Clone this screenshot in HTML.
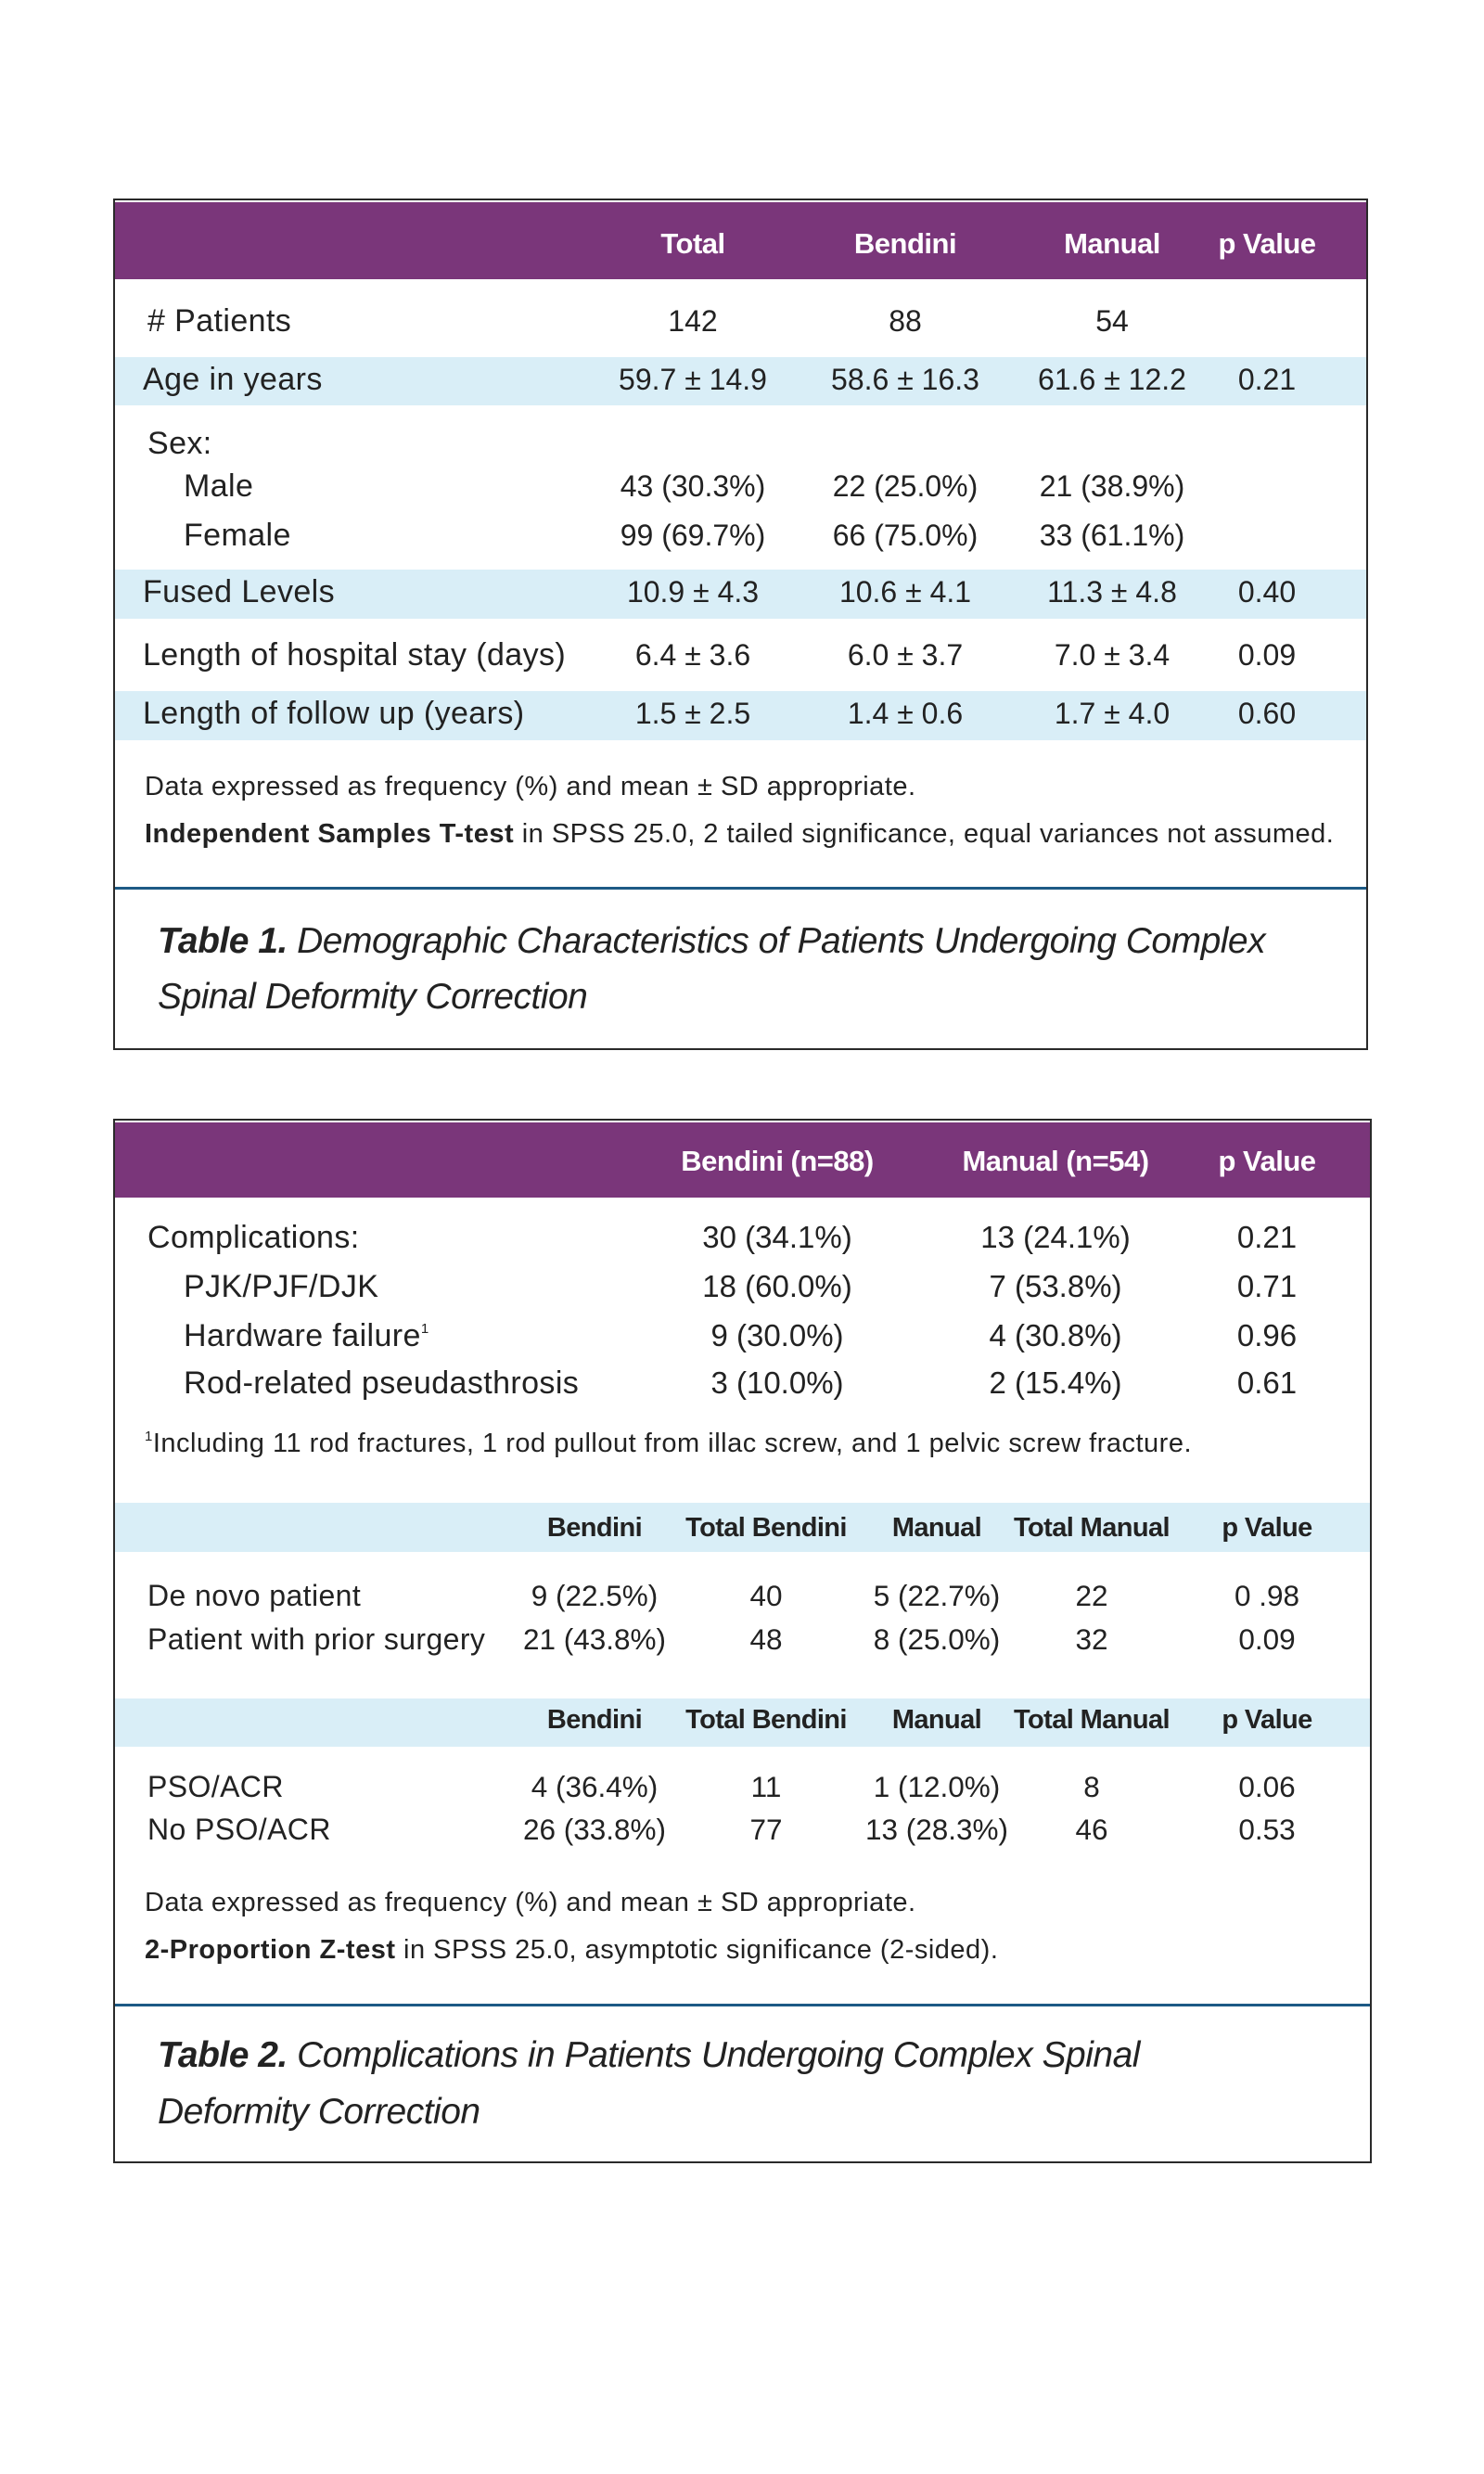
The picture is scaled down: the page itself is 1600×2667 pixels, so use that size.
<!DOCTYPE html>
<html><head><meta charset="utf-8"><style>
html,body{margin:0;padding:0;background:#fff;}
body{width:1600px;height:2667px;position:relative;overflow:hidden;font-family:"Liberation Sans",sans-serif;color:#222;}
.box{position:absolute;border:2px solid #2a2a2a;box-sizing:border-box;}
.band{position:absolute;background:#d9eef7;}
.hdr{position:absolute;background:#7a367a;}
.t{position:absolute;white-space:nowrap;height:40px;line-height:40px;font-size:32px;}
.lb{font-size:34px;letter-spacing:0.4px;}
.c{transform:translateX(-50%);}
.h{color:#fff;font-weight:bold;font-size:31px;letter-spacing:-0.5px;}
.hb{font-weight:bold;font-size:29px;letter-spacing:-0.6px;color:#222;}
.n{font-size:29px;letter-spacing:0.5px;}
.cap{font-size:39px;font-style:italic;color:#222;letter-spacing:-0.5px;}
.line{position:absolute;height:3px;background:#1d5a85;}
.s{font-size:31.5px !important;}
sup{font-size:15px;vertical-align:top;line-height:26px;}
</style></head><body>

<!-- Table 1 -->
<div class="box" style="left:122px;top:214px;width:1353px;height:918px;"></div>
<div class="hdr" style="left:124px;top:218px;width:1349px;height:83px;"></div>
<div class="t c h" style="left:747px;top:243px;">Total</div>
<div class="t c h" style="left:976px;top:243px;">Bendini</div>
<div class="t c h" style="left:1199px;top:243px;">Manual</div>
<div class="t c h" style="left:1366px;top:243px;">p Value</div>

<div class="t lb" style="left:159px;top:326px;"># Patients</div>
<div class="t c" style="left:747px;top:326px;">142</div>
<div class="t c" style="left:976px;top:326px;">88</div>
<div class="t c" style="left:1199px;top:326px;">54</div>

<div class="band" style="left:124px;top:385px;width:1349px;height:52px;"></div>
<div class="t lb" style="left:154px;top:389px;">Age in years</div>
<div class="t c" style="left:747px;top:389px;">59.7 ± 14.9</div>
<div class="t c" style="left:976px;top:389px;">58.6 ± 16.3</div>
<div class="t c" style="left:1199px;top:389px;">61.6 ± 12.2</div>
<div class="t c" style="left:1366px;top:389px;">0.21</div>

<div class="t lb" style="left:159px;top:458px;">Sex:</div>
<div class="t lb" style="left:198px;top:504px;">Male</div>
<div class="t c" style="left:747px;top:504px;">43 (30.3%)</div>
<div class="t c" style="left:976px;top:504px;">22 (25.0%)</div>
<div class="t c" style="left:1199px;top:504px;">21 (38.9%)</div>
<div class="t lb" style="left:198px;top:557px;">Female</div>
<div class="t c" style="left:747px;top:557px;">99 (69.7%)</div>
<div class="t c" style="left:976px;top:557px;">66 (75.0%)</div>
<div class="t c" style="left:1199px;top:557px;">33 (61.1%)</div>

<div class="band" style="left:124px;top:614px;width:1349px;height:53px;"></div>
<div class="t lb" style="left:154px;top:618px;">Fused Levels</div>
<div class="t c" style="left:747px;top:618px;">10.9 ± 4.3</div>
<div class="t c" style="left:976px;top:618px;">10.6 ± 4.1</div>
<div class="t c" style="left:1199px;top:618px;">11.3 ± 4.8</div>
<div class="t c" style="left:1366px;top:618px;">0.40</div>

<div class="t lb" style="left:154px;top:686px;">Length of hospital stay (days)</div>
<div class="t c" style="left:747px;top:686px;">6.4 ± 3.6</div>
<div class="t c" style="left:976px;top:686px;">6.0 ± 3.7</div>
<div class="t c" style="left:1199px;top:686px;">7.0 ± 3.4</div>
<div class="t c" style="left:1366px;top:686px;">0.09</div>

<div class="band" style="left:124px;top:745px;width:1349px;height:53px;"></div>
<div class="t lb" style="left:154px;top:749px;">Length of follow up (years)</div>
<div class="t c" style="left:747px;top:749px;">1.5 ± 2.5</div>
<div class="t c" style="left:976px;top:749px;">1.4 ± 0.6</div>
<div class="t c" style="left:1199px;top:749px;">1.7 ± 4.0</div>
<div class="t c" style="left:1366px;top:749px;">0.60</div>

<div class="t n" style="left:156px;top:828px;">Data expressed as frequency (%) and mean ± SD appropriate.</div>
<div class="t n" style="left:156px;top:879px;"><b>Independent Samples T-test</b> in SPSS 25.0, 2 tailed significance, equal variances not assumed.</div>
<div class="line" style="left:124px;top:956px;width:1349px;"></div>
<div class="t cap" style="left:170px;top:995px;"><b>Table 1.</b> Demographic Characteristics of Patients Undergoing Complex</div>
<div class="t cap" style="left:170px;top:1055px;">Spinal Deformity Correction</div>

<!-- Table 2 -->
<div class="box" style="left:122px;top:1206px;width:1357px;height:1126px;"></div>
<div class="hdr" style="left:124px;top:1210px;width:1353px;height:81px;"></div>
<div class="t c h" style="left:838px;top:1232px;">Bendini (n=88)</div>
<div class="t c h" style="left:1138px;top:1232px;">Manual (n=54)</div>
<div class="t c h" style="left:1366px;top:1232px;">p Value</div>

<div class="t lb" style="left:159px;top:1314px;">Complications:</div>
<div class="t c" style="left:838px;top:1314px;font-size:33px;">30 (34.1%)</div>
<div class="t c" style="left:1138px;top:1314px;font-size:33px;">13 (24.1%)</div>
<div class="t c" style="left:1366px;top:1314px;font-size:33px;">0.21</div>
<div class="t lb" style="left:198px;top:1367px;">PJK/PJF/DJK</div>
<div class="t c" style="left:838px;top:1367px;font-size:33px;">18 (60.0%)</div>
<div class="t c" style="left:1138px;top:1367px;font-size:33px;">7 (53.8%)</div>
<div class="t c" style="left:1366px;top:1367px;font-size:33px;">0.71</div>
<div class="t lb" style="left:198px;top:1420px;">Hardware failure<sup>1</sup></div>
<div class="t c" style="left:838px;top:1420px;font-size:33px;">9 (30.0%)</div>
<div class="t c" style="left:1138px;top:1420px;font-size:33px;">4 (30.8%)</div>
<div class="t c" style="left:1366px;top:1420px;font-size:33px;">0.96</div>
<div class="t lb" style="left:198px;top:1471px;">Rod-related pseudasthrosis</div>
<div class="t c" style="left:838px;top:1471px;font-size:33px;">3 (10.0%)</div>
<div class="t c" style="left:1138px;top:1471px;font-size:33px;">2 (15.4%)</div>
<div class="t c" style="left:1366px;top:1471px;font-size:33px;">0.61</div>
<div class="t n" style="left:156px;top:1536px;"><sup>1</sup>Including 11 rod fractures, 1 rod pullout from illac screw, and 1 pelvic screw fracture.</div>

<div class="band" style="left:124px;top:1620px;width:1353px;height:53px;"></div>
<div class="t c hb" style="left:641px;top:1627px;">Bendini</div>
<div class="t c hb" style="left:826px;top:1627px;">Total Bendini</div>
<div class="t c hb" style="left:1010px;top:1627px;">Manual</div>
<div class="t c hb" style="left:1177px;top:1627px;">Total Manual</div>
<div class="t c hb" style="left:1366px;top:1627px;">p Value</div>

<div class="t lb" style="left:159px;top:1700px;font-size:32px;">De novo patient</div>
<div class="t c s" style="left:641px;top:1700px;">9 (22.5%)</div>
<div class="t c s" style="left:826px;top:1700px;">40</div>
<div class="t c s" style="left:1010px;top:1700px;">5 (22.7%)</div>
<div class="t c s" style="left:1177px;top:1700px;">22</div>
<div class="t c s" style="left:1366px;top:1700px;">0 .98</div>
<div class="t lb" style="left:159px;top:1747px;font-size:32px;">Patient with prior surgery</div>
<div class="t c s" style="left:641px;top:1747px;">21 (43.8%)</div>
<div class="t c s" style="left:826px;top:1747px;">48</div>
<div class="t c s" style="left:1010px;top:1747px;">8 (25.0%)</div>
<div class="t c s" style="left:1177px;top:1747px;">32</div>
<div class="t c s" style="left:1366px;top:1747px;">0.09</div>

<div class="band" style="left:124px;top:1831px;width:1353px;height:52px;"></div>
<div class="t c hb" style="left:641px;top:1834px;">Bendini</div>
<div class="t c hb" style="left:826px;top:1834px;">Total Bendini</div>
<div class="t c hb" style="left:1010px;top:1834px;">Manual</div>
<div class="t c hb" style="left:1177px;top:1834px;">Total Manual</div>
<div class="t c hb" style="left:1366px;top:1834px;">p Value</div>

<div class="t lb" style="left:159px;top:1906px;font-size:32px;">PSO/ACR</div>
<div class="t c s" style="left:641px;top:1906px;">4 (36.4%)</div>
<div class="t c s" style="left:826px;top:1906px;">11</div>
<div class="t c s" style="left:1010px;top:1906px;">1 (12.0%)</div>
<div class="t c s" style="left:1177px;top:1906px;">8</div>
<div class="t c s" style="left:1366px;top:1906px;">0.06</div>
<div class="t lb" style="left:159px;top:1952px;font-size:32px;">No PSO/ACR</div>
<div class="t c s" style="left:641px;top:1952px;">26 (33.8%)</div>
<div class="t c s" style="left:826px;top:1952px;">77</div>
<div class="t c s" style="left:1010px;top:1952px;">13 (28.3%)</div>
<div class="t c s" style="left:1177px;top:1952px;">46</div>
<div class="t c s" style="left:1366px;top:1952px;">0.53</div>

<div class="t n" style="left:156px;top:2031px;">Data expressed as frequency (%) and mean ± SD appropriate.</div>
<div class="t n" style="left:156px;top:2082px;"><b>2-Proportion Z-test</b> in SPSS 25.0, asymptotic significance (2-sided).</div>
<div class="line" style="left:124px;top:2160px;width:1353px;"></div>
<div class="t cap" style="left:170px;top:2196px;"><b>Table 2.</b> Complications in Patients Undergoing Complex Spinal</div>
<div class="t cap" style="left:170px;top:2257px;">Deformity Correction</div>
</body></html>
